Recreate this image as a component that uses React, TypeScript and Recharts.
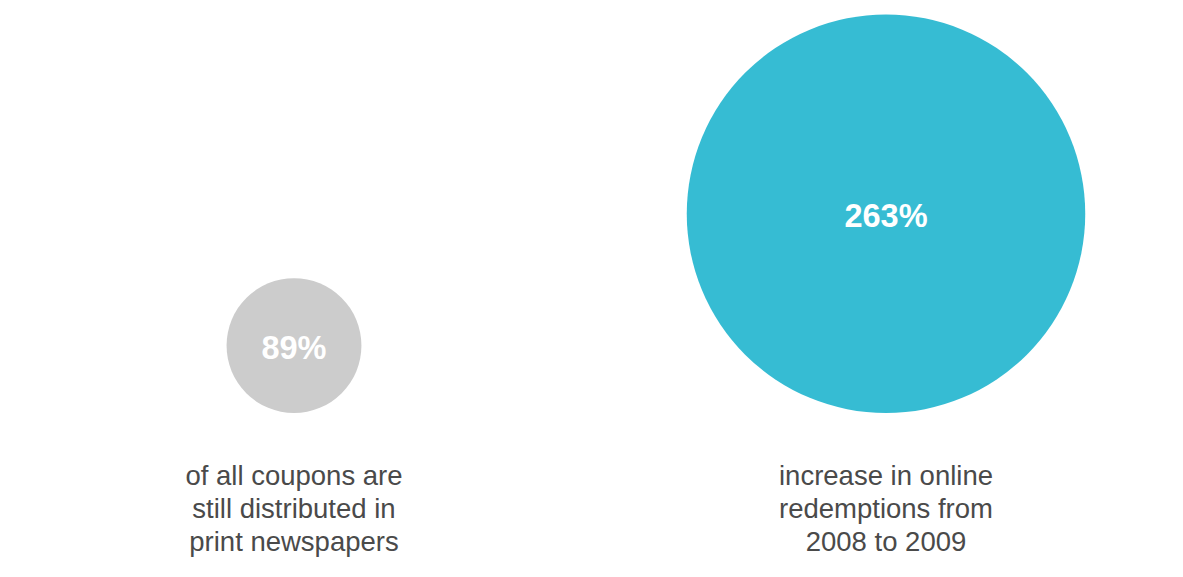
import React from 'react';
import { ScatterChart, Scatter, XAxis, YAxis, Cell } from 'recharts';

// the two facts shown as bubbles, radius proportional to the value
const categories = ['print', 'online'];
const values = [89, 263];
const valueLabels = ['89%', '263%'];
const captions = [
    ['of all coupons are', 'still distributed in', 'print newspapers'],
    ['increase in online', 'redemptions from', '2008 to 2009'],
];

const COLORS = ['#CCCCCC', '#36BCD3'];

const WIDTH = 1183;
const HEIGHT = 577;
const AXIS_HEIGHT = 164;
const MARGIN = { top: 13, right: 1, bottom: 0, left: -2 };
const BASELINE = HEIGHT - MARGIN.bottom - AXIS_HEIGHT;
const FONT = '"Liberation Sans", Arial, Helvetica, sans-serif';

const chartData = categories.map((name, i) => ({
    name,
    value: values[i],
    label: valueLabels[i],
    caption: captions[i],
}));

// circle sits on the baseline; its radius is the y-scale distance of the value
const Bubble = (props: any) => {
    const { cx, cy, payload, fill } = props;
    const r = BASELINE - cy;
    return (
        <g>
            <circle cx={cx} cy={cy} r={r} fill={fill} />
            <text
                x={cx}
                y={cy + 13}
                textAnchor="middle"
                fill="#ffffff"
                fontFamily={FONT}
                fontWeight="bold"
                fontSize={32.5}
            >
                {payload.label}
            </text>
        </g>
    );
};

const CaptionTick = (props: any) => {
    const { x, payload } = props;
    const idx = categories.indexOf(payload.value);
    const lines = captions[idx] || [];
    return (
        <g>
            {lines.map((line, i) => (
                <text
                    key={i}
                    x={x}
                    y={BASELINE + 71.5 + i * 33}
                    textAnchor="middle"
                    fill="#4a4a4a"
                    fontFamily={FONT}
                    fontSize={27.5}
                >
                    {line}
                </text>
            ))}
        </g>
    );
};

export default function App() {
    return (
        <div style={{ position: 'absolute', left: 0, top: 0, background: '#fff' }}>
            <ScatterChart width={WIDTH} height={HEIGHT} margin={MARGIN}>
                <XAxis
                    type="category"
                    dataKey="name"
                    allowDuplicatedCategory={false}
                    axisLine={false}
                    tickLine={false}
                    tick={<CaptionTick />}
                    height={AXIS_HEIGHT}
                    interval={0}
                />
                <YAxis type="number" dataKey="value" domain={[0, 528]} hide />
                <Scatter data={chartData} shape={<Bubble />} isAnimationActive={false}>
                    {chartData.map((d, i) => (
                        <Cell key={d.name} fill={COLORS[i]} />
                    ))}
                </Scatter>
            </ScatterChart>
        </div>
    );
}
